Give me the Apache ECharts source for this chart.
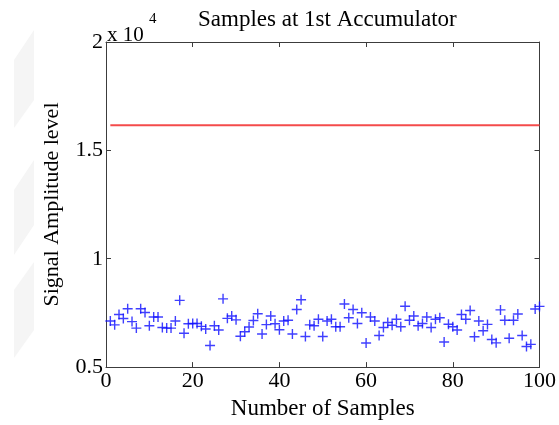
<!DOCTYPE html>
<html>
<head>
<meta charset="utf-8">
<script src="https://cdn.jsdelivr.net/npm/echarts@6/dist/echarts.min.js"></script>
<style>
  html, body { margin: 0; padding: 0; background: #fff; }
  #chart { width: 559px; height: 425px; }
</style>
</head>
<body>
<div id="chart"></div>
<script>
// Sample index and amplitude of each accumulator sample
const sampleIndex = [
  1, 2, 3, 4, 5, 6, 7, 8, 9, 10, 11, 12, 13, 14, 15, 16, 17, 18, 19, 20,
  21, 22, 23, 24, 25, 26, 27, 28, 29, 30, 31, 32, 33, 34, 35, 36, 37, 38, 39, 40,
  41, 42, 43, 44, 45, 46, 47, 48, 49, 50, 51, 52, 53, 54, 55, 56, 57, 58, 59, 60,
  61, 62, 63, 64, 65, 66, 67, 68, 69, 70, 71, 72, 73, 74, 75, 76, 77, 78, 79, 80,
  81, 82, 83, 84, 85, 86, 87, 88, 89, 90, 91, 92, 93, 94, 95, 96, 97, 98, 99, 100
];
const sampleAmplitude = [
  7130, 6950, 7430, 7240, 7690, 7100, 6800, 7690, 7520, 6910,
  7310, 7310, 6830, 6800, 6800, 7130, 8080, 6560, 7000, 7010,
  7010, 6880, 6760, 6000, 6910, 6710, 8150, 7250, 7360, 7180,
  6420, 6630, 6850, 7150, 7460, 6530, 6960, 7360, 7000, 6720,
  7130, 7160, 6530, 7660, 8110, 6410, 6950, 6910, 7210, 6410,
  7130, 7210, 6860, 6860, 7910, 7280, 7660, 7010, 7510, 6110,
  7310, 7130, 6460, 6830, 7060, 6930, 7210, 6860, 7810, 7160,
  7360, 6910, 7010, 7310, 6830, 7210, 7280, 6160, 6980, 6860,
  6710, 7430, 7210, 7610, 6400, 7130, 6680, 6970, 6270, 6120,
  7640, 7160, 6330, 7160, 7450, 6460, 5950, 6050, 7680, 7800
];
// Reference level drawn across the samples
const levelX = [1, 100];
const levelY = [16160, 16160];

// Axis ticks (amplitude ticks are shown in units of 10^4)
const xTicks = [0, 20, 40, 60, 80, 100];
const yTicks = [5000, 10000, 15000, 20000];

const serif = '"Liberation Serif", "Times New Roman", serif';
const plusPath = 'path://M4.3,0H5.7V4.3H10V5.7H5.7V10H4.3V5.7H0V4.3H4.3Z';

const chart = echarts.init(document.getElementById('chart'), null, { renderer: 'canvas' });

const axisLineStyle = { color: '#3c3c3c', width: 1 };

chart.setOption({
  animation: false,
  backgroundColor: '#ffffff',
  title: {
    text: 'Samples at 1st Accumulator',
    left: 193, top: 3,
    textStyle: { fontFamily: serif, fontWeight: 'normal', fontSize: 23, color: '#000' }
  },
  graphic: [
    // faint page shading on the left margin
    { type: 'polygon', silent: true, z: -10,
      shape: { points: [[14, 60], [34, 30], [34, 100], [14, 128]] },
      style: { fill: '#f5f5f5' } },
    { type: 'polygon', silent: true, z: -10,
      shape: { points: [[14, 190], [34, 160], [34, 225], [14, 255]] },
      style: { fill: '#f5f5f5' } },
    { type: 'polygon', silent: true, z: -10,
      shape: { points: [[14, 290], [34, 262], [34, 330], [14, 358]] },
      style: { fill: '#f5f5f5' } },
    // exponent note for the amplitude axis
    { type: 'text', left: 107, top: 25, silent: true,
      style: { text: 'x 10', fontSize: 21, fontFamily: serif, fill: '#000' } },
    { type: 'text', left: 149, top: 12, silent: true,
      style: { text: '4', fontSize: 15, fontFamily: serif, fill: '#000' } }
  ],
  grid: { left: 106, right: 17, top: 42, bottom: 51, containLabel: false },
  xAxis: [
    {
      type: 'value', min: 0, max: 100, interval: 20, position: 'bottom',
      name: 'Number of Samples', nameLocation: 'middle', nameGap: 25,
      nameTextStyle: { fontFamily: serif, fontSize: 23, color: '#000' },
      axisLine: { show: true, onZero: false, lineStyle: axisLineStyle },
      axisTick: { show: true, inside: true, length: 5, lineStyle: axisLineStyle },
      axisLabel: { fontFamily: serif, fontSize: 22, color: '#000', margin: 3,
        formatter: v => (xTicks.indexOf(v) >= 0 ? String(v) : '') },
      splitLine: { show: false }
    },
    {
      type: 'value', min: 0, max: 100, interval: 20, position: 'top',
      axisLine: { show: true, onZero: false, lineStyle: axisLineStyle },
      axisTick: { show: true, inside: true, length: 5, lineStyle: axisLineStyle },
      axisLabel: { show: false }, splitLine: { show: false }
    }
  ],
  yAxis: [
    {
      type: 'value', min: 5000, max: 20000, interval: 5000, position: 'left',
      name: 'Signal Amplitude level', nameLocation: 'middle', nameGap: 43, nameRotate: 90,
      nameTextStyle: { fontFamily: serif, fontSize: 22, color: '#000' },
      axisLine: { show: true, onZero: false, lineStyle: axisLineStyle },
      axisTick: { show: true, inside: true, length: 5, lineStyle: axisLineStyle },
      axisLabel: { fontFamily: serif, fontSize: 22, color: '#000', margin: 3,
        formatter: v => (yTicks.indexOf(v) >= 0 ? String(v / 10000) : '') },
      splitLine: { show: false }
    },
    {
      type: 'value', min: 5000, max: 20000, interval: 5000, position: 'right',
      axisLine: { show: true, onZero: false, lineStyle: axisLineStyle },
      axisTick: { show: true, inside: true, length: 5, lineStyle: axisLineStyle },
      axisLabel: { show: false }, splitLine: { show: false }
    }
  ],
  series: [
    {
      type: 'line',
      data: levelX.map((x, i) => [x, levelY[i]]),
      showSymbol: false,
      lineStyle: { color: '#f44b4b', width: 1.8 },
      silent: true
    },
    {
      type: 'scatter',
      data: sampleIndex.map((x, i) => [x, sampleAmplitude[i]]),
      symbol: plusPath,
      symbolSize: 10,
      itemStyle: { color: '#0f0fff' },
      silent: true
    }
  ]
});
</script>
</body>
</html>
